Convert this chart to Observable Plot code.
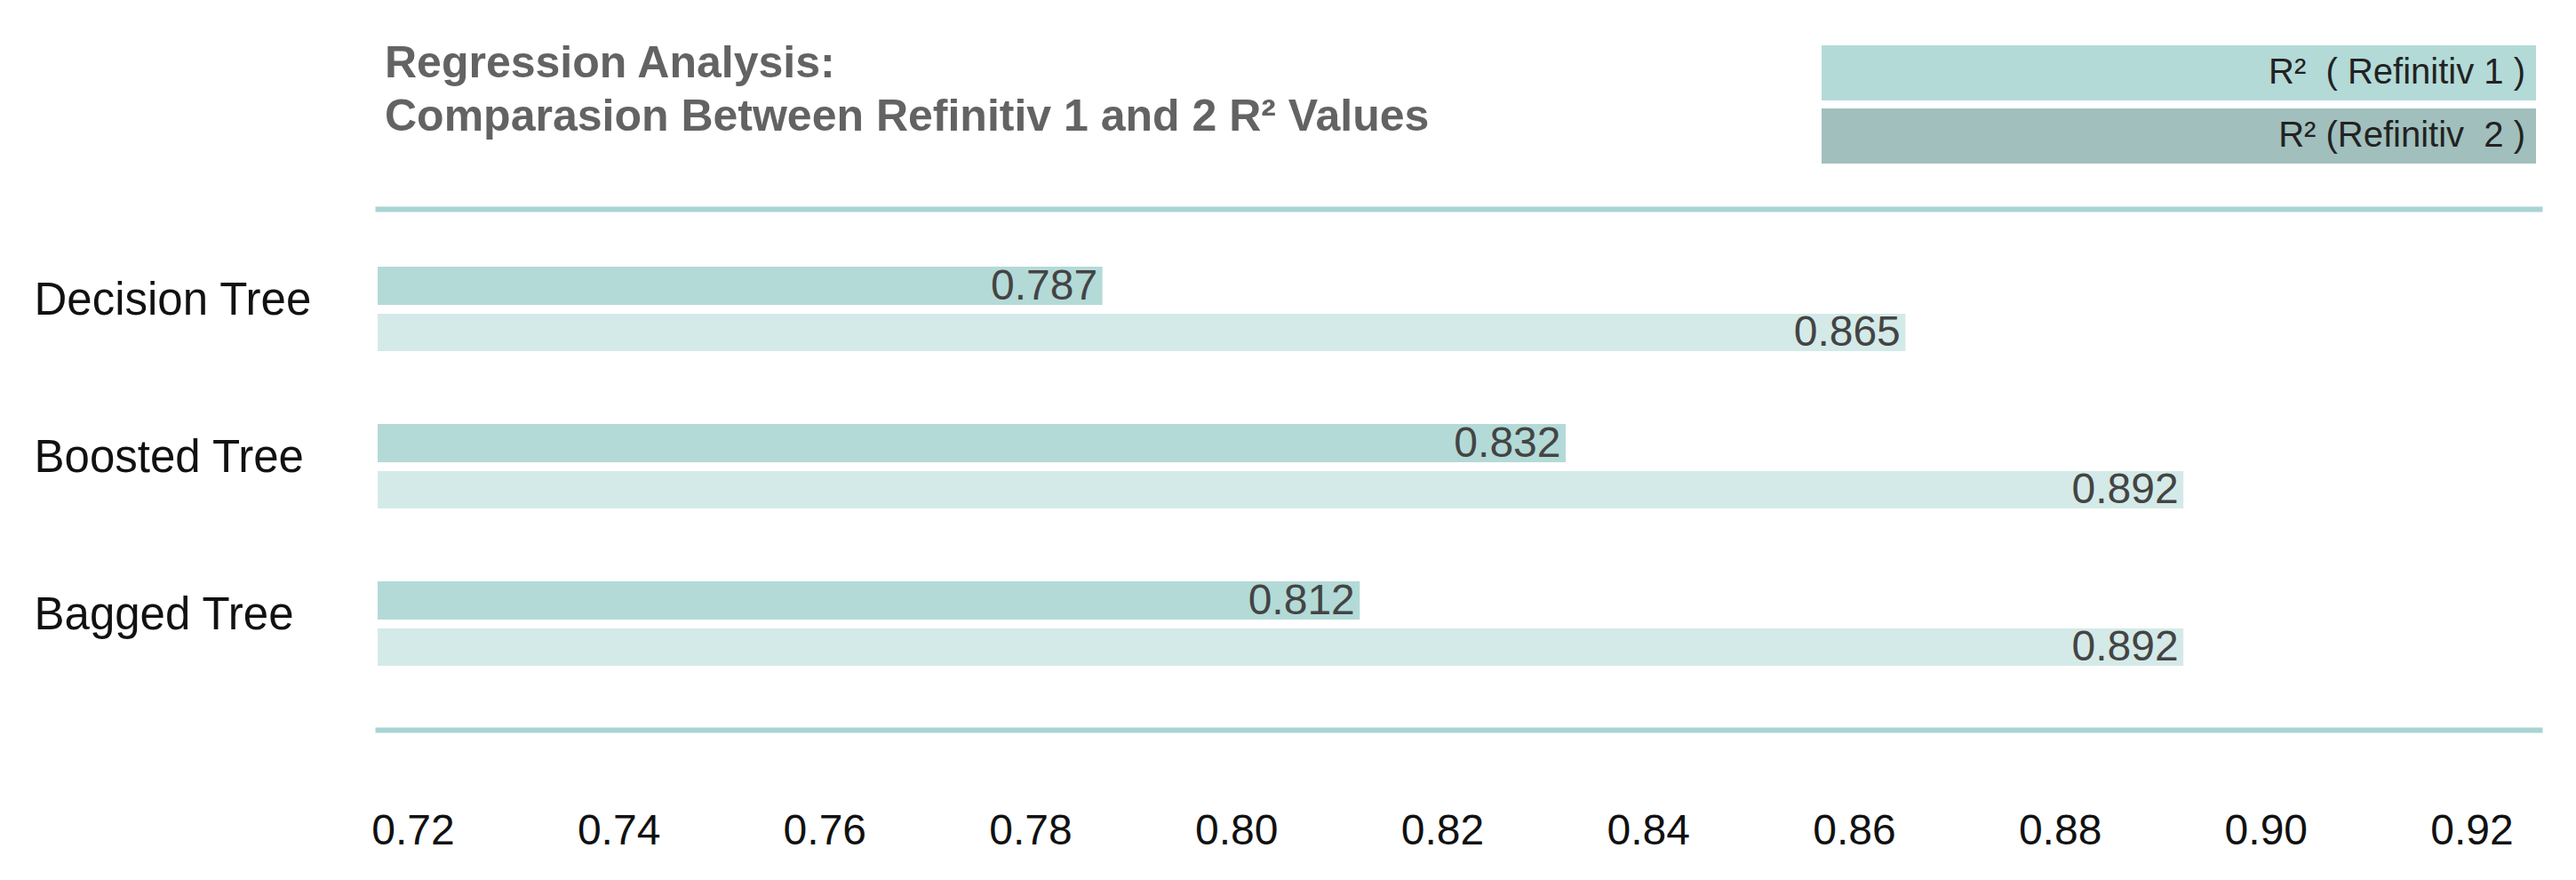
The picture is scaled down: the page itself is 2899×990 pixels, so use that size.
<!DOCTYPE html>
<html>
<head>
<meta charset="utf-8">
<script src="https://cdn.jsdelivr.net/npm/d3@7"></script>
<script src="https://cdn.jsdelivr.net/npm/@observablehq/plot@0.6"></script>
<style>
  html, body { margin: 0; padding: 0; background: #fff; overflow: hidden; }
  #wrap { position: relative; width: 2899px; height: 990px; font-family: "Liberation Sans", Arial, sans-serif; }
  #header { position: relative; width: 2899px; height: 200px; }
  #title { position: absolute; left: 433px; top: 40px; font-size: 50px; line-height: 60px; font-weight: bold; color: #636363; white-space: nowrap; }
  .lg { position: absolute; left: 2050px; width: 804px; height: 62px; box-sizing: border-box; padding-right: 12px; text-align: right; font-size: 40px; line-height: 58px; color: #222; white-space: pre; overflow: visible; }
</style>
</head>
<body>
<div id="wrap">
  <div id="header">
    <div id="title"></div>
    <div id="legend"></div>
  </div>
  <div id="chart"></div>
</div>
<script>
const categories = ["Decision Tree", "Boosted Tree", "Bagged Tree"];
const refinitiv1 = [0.787, 0.832, 0.812];
const refinitiv2 = [0.865, 0.892, 0.892];
const seriesLabels = ["R²  ( Refinitiv 1 )", "R² (Refinitiv  2 )"];
const xTicks = [0.72, 0.74, 0.76, 0.78, 0.80, 0.82, 0.84, 0.86, 0.88, 0.90, 0.92];
const xDomain = [0.7166, 0.9266];
const titleLines = ["Regression Analysis:", "Comparasion Between Refinitiv 1 and 2 R² Values"];

const c1 = "#b3dad7";
const c2 = "#d4eae8";
const legendColors = ["#b3dad7", "#a1bfbc"];
const lineColor = "#a8d4d2";

document.getElementById("title").innerHTML = titleLines.join("<br>");
const legend = document.getElementById("legend");
seriesLabels.forEach((s, i) => {
  const d = document.createElement("div");
  d.className = "lg";
  d.style.top = (51 + i * 71) + "px";
  d.style.background = legendColors[i];
  d.textContent = s;
  legend.appendChild(d);
});

const data1 = categories.map((c, i) => ({category: c, value: refinitiv1[i]}));
const data2 = categories.map((c, i) => ({category: c, value: refinitiv2[i]}));
const base = xDomain[0];

const plot = Plot.plot({
  width: 2899,
  height: 790,
  marginLeft: 425,
  marginRight: 41,
  marginTop: 35,
  marginBottom: 169,
  style: {fontFamily: "'Liberation Sans', Arial, sans-serif", fontSize: "48px", color: "#111", background: "#fff"},
  x: {domain: xDomain, ticks: xTicks, tickFormat: d3.format(".2f"), tickSize: 0, tickPadding: 94, label: null},
  y: {domain: categories, paddingInner: 0.4648, paddingOuter: 0.3831, align: 0.47, axis: null},
  marks: [
    Plot.barX(data1, {y: "category", x1: () => base, x2: "value", fill: c1, insetBottom: 52}),
    Plot.barX(data2, {y: "category", x1: () => base, x2: "value", fill: c2, insetTop: 53}),
    Plot.text(data1, {y: "category", x: "value", text: d => d3.format(".3f")(d.value), textAnchor: "end", dx: -6, dy: -26, fontSize: 48, fill: "#444"}),
    Plot.text(data2, {y: "category", x: "value", text: d => d3.format(".3f")(d.value), textAnchor: "end", dx: -6, dy: 26, fontSize: 48, fill: "#444"}),
    Plot.text(categories, {y: d => d, frameAnchor: "left", textAnchor: "start", dx: -387, dy: -10, fontSize: 51, fill: "#111"}),
    Plot.frame({anchor: "top", stroke: lineColor, strokeWidth: 6}),
    Plot.frame({anchor: "bottom", stroke: lineColor, strokeWidth: 6})
  ]
});
document.getElementById("chart").appendChild(plot);
</script>
</body>
</html>
